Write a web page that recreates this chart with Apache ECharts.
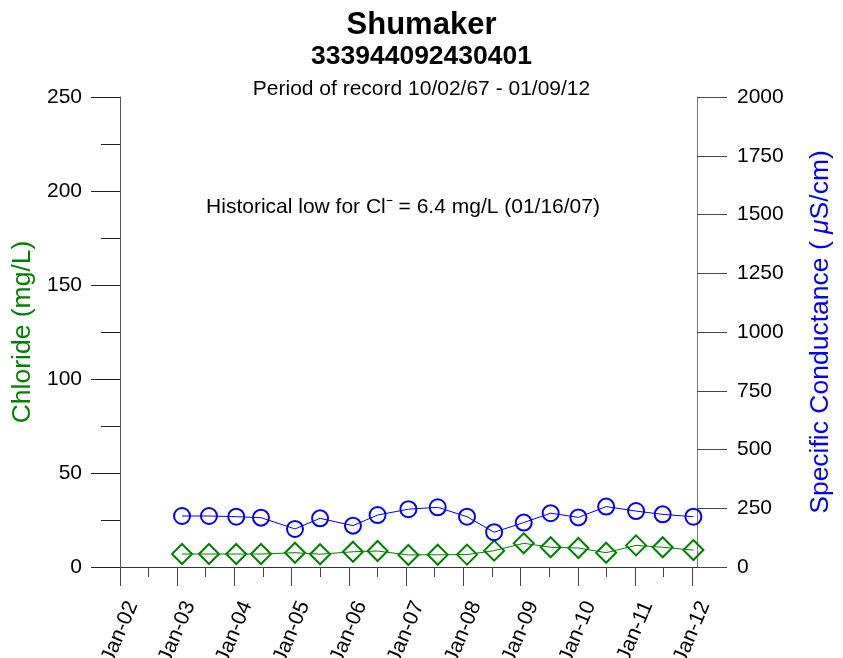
<!DOCTYPE html>
<html>
<head>
<meta charset="utf-8">
<script src="https://cdn.jsdelivr.net/npm/echarts@6/dist/echarts.min.js"></script>
<style>
  html, body { margin: 0; padding: 0; background: #fff; }
  #main { width: 843px; height: 658px; }
</style>
</head>
<body>
<div id="main"></div>
<script>
// sample dates
var sampleDates = ['2003-02-01', '2003-07-23', '2004-01-13', '2004-06-19', '2005-01-22',
  '2005-07-01', '2006-01-27', '2006-07-03', '2007-01-16', '2007-07-22', '2008-01-25',
  '2008-07-16', '2009-01-21', '2009-07-12', '2010-01-05', '2010-07-01', '2011-01-08',
  '2011-06-27', '2012-01-09'];
// chloride, mg/L
var chloride = [6.9, 6.9, 6.9, 6.9, 7.6, 6.8, 8.1, 8.5, 6.4, 6.5, 6.6, 8.7, 12.6, 10.5, 10.1, 7.6, 11.5, 10.5, 9.0];
// specific conductance, uS/cm
var conductance = [217, 217, 214, 210, 162, 207, 176, 221, 246, 254, 214, 148, 189, 229, 211, 257, 238, 224, 214];
// labelled years on the date axis (Jan-yy)
var tickYears = [2002, 2003, 2004, 2005, 2006, 2007, 2008, 2009, 2010, 2011, 2012];

var FONT = 'Liberation Sans, Arial, sans-serif';
var GREEN = '#008000';
var BLUE = '#0000ff';

function pairs(vals) {
  return sampleDates.map(function (d, i) { return [d, vals[i]]; });
}
var tMin = new Date(2002, 0, 1).getTime();
var tMax = new Date(2012, 1, 1).getTime();
var janTicks = tickYears.map(function (y) { return new Date(y, 0, 1).getTime(); });
var julTicks = tickYears.slice(0, -1).map(function (y) { return new Date(y, 6, 2).getTime(); });

var myChart = echarts.init(document.getElementById('main'));

var option = {
  backgroundColor: '#fff',
  animation: false,
  title: [
    { text: 'Shumaker', left: 'center', top: 5,
      textStyle: { fontFamily: FONT, fontSize: 31, fontWeight: 'bold', color: '#000' } },
    { text: '333944092430401', left: 'center', top: 38,
      textStyle: { fontFamily: FONT, fontSize: 26.5, fontWeight: 'bold', color: '#000' } },
    { text: 'Period of record 10/02/67 - 01/09/12', left: 'center', top: 74,
      textStyle: { fontFamily: FONT, fontSize: 21, fontWeight: 'normal', color: '#000' } }
  ],
  graphic: [{
    type: 'text',
    x: 403, y: 207,
    style: {
      text: 'Historical low for Cl\u207B = 6.4 mg/L (01/16/07)',
      font: '21px ' + FONT,
      fill: '#000',
      align: 'center',
      verticalAlign: 'middle'
    }
  }],
  grid: { left: 120, right: 146, top: 97, bottom: 91, outerBoundsMode: 'none' },
  xAxis: [
    {
      // data axis
      type: 'time',
      position: 'bottom',
      min: tMin,
      max: tMax,
      axisLine: { lineStyle: { color: '#333', width: 1 } },
      axisTick: { show: false },
      axisLabel: { show: false },
      splitLine: { show: false }
    },
    {
      // January ticks and labels
      type: 'value',
      position: 'bottom',
      min: tMin,
      max: tMax,
      axisLine: { show: false },
      axisTick: { show: true, length: 19, customValues: janTicks, lineStyle: { color: '#444' } },
      splitLine: { show: false },
      axisLabel: {
        customValues: janTicks,
        formatter: function (v) { return 'Jan-' + String(new Date(v).getFullYear()).slice(2); },
        rotate: 67,
        margin: 30,
        verticalAlign: 'top',
        padding: [3, 0, 0, 0],
        fontFamily: FONT,
        fontSize: 21,
        color: '#000'
      }
    },
    {
      // mid-year minor ticks
      type: 'value',
      position: 'bottom',
      min: tMin,
      max: tMax,
      axisLine: { show: false },
      axisTick: { show: true, length: 10, customValues: julTicks, lineStyle: { color: '#444' } },
      axisLabel: { show: false },
      splitLine: { show: false }
    }
  ],
  yAxis: [
    {
      type: 'value',
      position: 'left',
      min: 0, max: 250, interval: 50,
      name: 'Chloride (mg/L)',
      nameLocation: 'middle',
      nameRotate: 90,
      nameGap: 81,
      nameTextStyle: { fontFamily: FONT, fontSize: 26.5, color: GREEN },
      axisLine: { show: true, lineStyle: { color: '#555' } },
      axisTick: { show: true, length: 29, lineStyle: { color: '#222' } },
      minorTick: { show: true, splitNumber: 2, length: 19, lineStyle: { color: '#222' } },
      splitLine: { show: false },
      axisLabel: { margin: 38, fontFamily: FONT, fontSize: 21, color: '#000' }
    },
    {
      type: 'value',
      position: 'right',
      min: 0, max: 2000, interval: 250,
      name: 'Specific Conductance ( {mu|\u03BC}S/cm)',
      nameLocation: 'middle',
      nameRotate: 90,
      nameGap: 110,
      nameTextStyle: {
        fontFamily: FONT, fontSize: 26.5, color: BLUE,
        rich: { mu: { fontFamily: FONT, fontSize: 26.5, color: BLUE, fontStyle: 'italic' } }
      },
      axisLine: { show: true, lineStyle: { color: '#777' } },
      axisTick: { show: true, length: 30, lineStyle: { color: '#444' } },
      splitLine: { show: false },
      axisLabel: {
        margin: 40, fontFamily: FONT, fontSize: 21, color: '#000',
        formatter: function (v) { return String(v); }
      }
    }
  ],
  series: [
    {
      name: 'Chloride',
      type: 'line',
      xAxisIndex: 0,
      yAxisIndex: 0,
      data: pairs(chloride),
      symbol: 'diamond',
      symbolSize: 20,
      itemStyle: { color: 'transparent', borderColor: GREEN, borderWidth: 2 },
      lineStyle: { color: GREEN, width: 1 },
      z: 3
    },
    {
      name: 'Specific Conductance',
      type: 'line',
      xAxisIndex: 0,
      yAxisIndex: 1,
      data: pairs(conductance),
      symbol: 'circle',
      symbolSize: 16,
      itemStyle: { color: 'transparent', borderColor: BLUE, borderWidth: 2 },
      lineStyle: { color: BLUE, width: 1 },
      z: 3
    }
  ]
};

myChart.setOption(option);
</script>
</body>
</html>
